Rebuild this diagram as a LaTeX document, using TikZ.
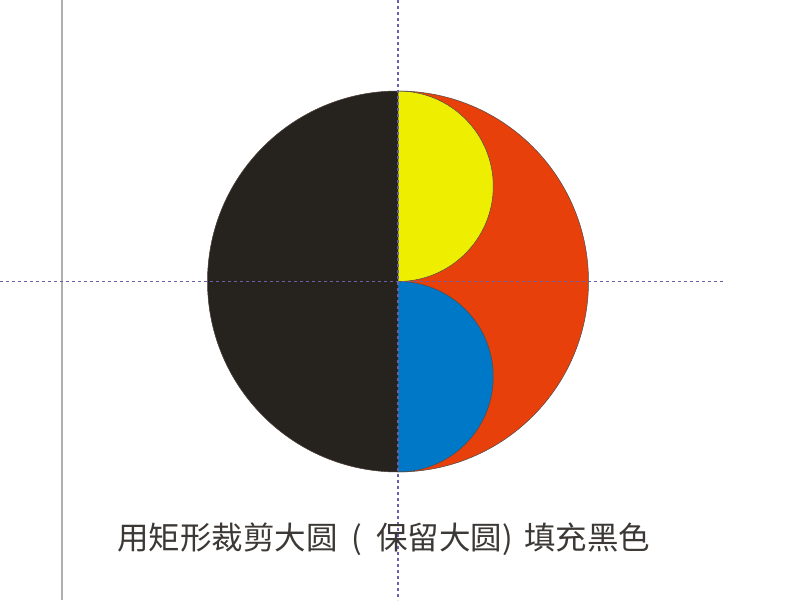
\documentclass[tikz,border=0pt]{standalone}
\usepackage{fontspec}
\newfontfamily\cjk{Noto Sans CJK SC}
\definecolor{bigblack}{RGB}{38,34,30}
\definecolor{bigred}{RGB}{232,64,10}
\definecolor{smyellow}{RGB}{238,238,0}
\definecolor{smblue}{RGB}{0,120,200}
\definecolor{guidepurple}{RGB}{105,95,170}
\definecolor{guidegrey}{RGB}{175,175,175}
\tikzset{
  outline/.style={draw=black!70, line width=0.5pt},
  guide/.style={guidepurple, line width=1.3pt, dash pattern=on 3pt off 3pt},
  caption/.style={font=\cjk\fontsize{31.5}{36}\selectfont, text=bigblack!90, inner sep=0pt, anchor=west}
}
\begin{document}
\begin{tikzpicture}[x=1pt,y=1pt]
\useasboundingbox (0,0) rectangle (800,600);
\fill[white] (0,0) rectangle (800,600);
% big circle: red fill
\coordinate (C) at (398,318.5);
\fill[bigred] (C) circle (190.5);
% left half black
\fill[bigblack] (398,509) arc (90:270:190.5) -- cycle;
% yellow and blue half discs
\filldraw[fill=smyellow, outline] (398,509) arc (90:-90:95.25) -- cycle;
\filldraw[fill=smblue, outline] (398,318.5) arc (90:-90:95.25) -- cycle;
\draw[outline] (C) circle (190.5);
% guides
\draw[guidegrey, line width=1.3pt] (62,0) -- (62,600);
\draw[guide] (398,600) -- (398,0);
\draw[guide] (0,318.5) -- (724,318.5);
% caption
\node[caption] (cap) at (117,61) {用矩形裁剪大圆\hspace{7pt} (\hspace{7pt} 保留大圆)\hspace{4pt} 填充黑色};
\end{tikzpicture}
\end{document}
